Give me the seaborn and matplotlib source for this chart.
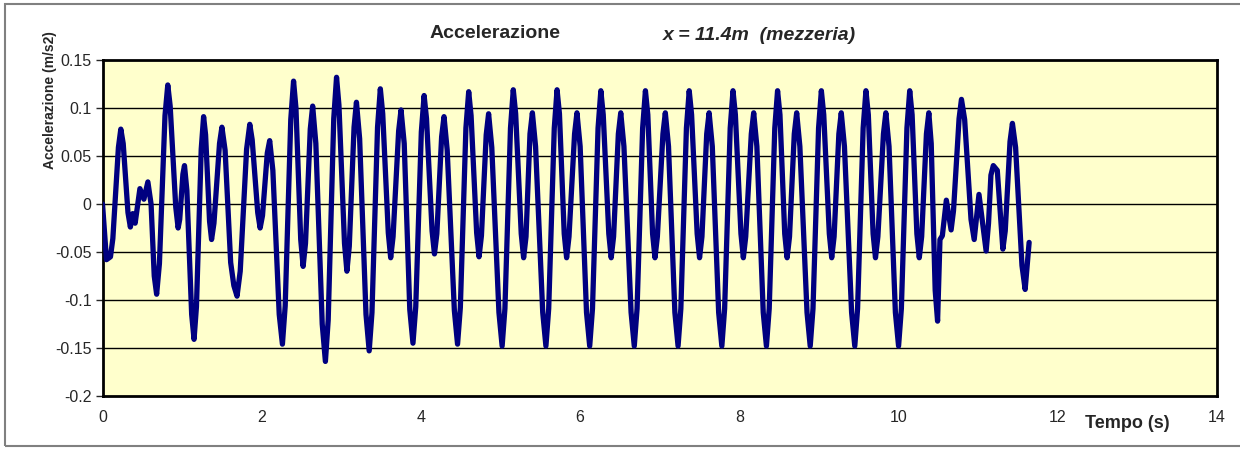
import numpy as np
import matplotlib
matplotlib.use("Agg")
import matplotlib.pyplot as plt
import seaborn as sns
from matplotlib.patches import Rectangle

# points: time (s)
tempo = [
    0.00, 0.05, 0.10, 0.13, 0.20, 0.23, 0.26, 0.32, 0.35, 0.38, 0.41, 0.47, 0.52, 0.57, 0.61, 0.65, 0.68,
    0.715, 0.785, 0.82, 0.85, 0.92, 0.95, 0.97, 1.01, 1.03, 1.06, 1.12, 1.15, 1.18, 1.24, 1.27, 1.295, 1.345, 1.37,
    1.40, 1.47, 1.50, 1.54, 1.61, 1.65, 1.69, 1.73, 1.81, 1.85, 1.88, 1.95, 1.98, 2.01, 2.07, 2.10, 2.14, 2.22, 2.26,
    2.295, 2.365, 2.40, 2.43, 2.49, 2.52, 2.55, 2.61, 2.64, 2.68, 2.76, 2.80,
    2.835, 2.905, 2.94, 2.97, 3.04, 3.07, 3.10, 3.16, 3.19, 3.23, 3.31, 3.35,
    3.385, 3.455, 3.49, 3.52, 3.59, 3.62, 3.65, 3.72, 3.75, 3.79, 3.86, 3.90,
    3.935, 4.005, 4.04, 4.07, 4.14, 4.17, 4.20, 4.26, 4.29, 4.33, 4.42, 4.46,
    4.495, 4.565, 4.60, 4.63, 4.70, 4.73, 4.76, 4.82, 4.85, 4.89, 4.98, 5.02,
    5.055, 5.125, 5.16, 5.19, 5.26, 5.29, 5.32, 5.37, 5.40, 5.44, 5.53, 5.57,
    5.605, 5.675, 5.71, 5.74, 5.80, 5.83, 5.86, 5.93, 5.96, 6.00, 6.08, 6.12,
    6.155, 6.225, 6.26, 6.29, 6.36, 6.39, 6.42, 6.48, 6.51, 6.55, 6.64, 6.68,
    6.715, 6.785, 6.82, 6.85, 6.91, 6.94, 6.97, 7.04, 7.07, 7.11, 7.19, 7.23,
    7.265, 7.335, 7.37, 7.40, 7.47, 7.50, 7.53, 7.59, 7.62, 7.66, 7.74, 7.78,
    7.815, 7.885, 7.92, 7.95, 8.02, 8.05, 8.08, 8.15, 8.18, 8.22, 8.30, 8.34,
    8.375, 8.445, 8.48, 8.51, 8.57, 8.60, 8.63, 8.69, 8.72, 8.76, 8.85, 8.89,
    8.925, 8.995, 9.03, 9.06, 9.13, 9.16, 9.19, 9.25, 9.28, 9.32, 9.41, 9.45,
    9.485, 9.555, 9.59, 9.62, 9.68, 9.71, 9.74, 9.81, 9.84, 9.88, 9.96, 10.00,
    10.035, 10.105, 10.14, 10.17, 10.23, 10.26, 10.29, 10.35, 10.38, 10.41, 10.46, 10.49,
    10.52, 10.55, 10.60, 10.66, 10.69, 10.76, 10.79, 10.83, 10.91, 10.95, 11.01, 11.10,
    11.13, 11.16, 11.19, 11.24, 11.31, 11.34, 11.40, 11.43, 11.47, 11.55, 11.59, 11.64,
]
# acceleration (m/s2)
accel = [
    0.000, -0.058, -0.055, -0.036, 0.059, 0.078, 0.063, -0.009, -0.024, -0.010, -0.020, 0.016, 0.005, 0.023, 0.000, -0.075, -0.094,
    -0.062, 0.092, 0.124, 0.102, -0.003, -0.025, -0.016, 0.031, 0.040, 0.014, -0.115, -0.141, -0.107, 0.057, 0.091, 0.072, -0.018, -0.037,
    -0.020, 0.063, 0.080, 0.056, -0.061, -0.085, -0.096, -0.070, 0.057, 0.083, 0.067, -0.009, -0.025, -0.012, 0.053, 0.066, 0.035, -0.115, -0.146,
    -0.106, 0.088, 0.128, 0.100, -0.037, -0.065, -0.041, 0.078, 0.102, 0.063, -0.125, -0.164,
    -0.121, 0.089, 0.132, 0.103, -0.041, -0.070, -0.044, 0.080, 0.106, 0.068, -0.115, -0.153,
    -0.113, 0.080, 0.120, 0.094, -0.030, -0.056, -0.034, 0.076, 0.098, 0.063, -0.110, -0.145,
    -0.107, 0.075, 0.113, 0.089, -0.028, -0.052, -0.031, 0.070, 0.091, 0.056, -0.111, -0.146,
    -0.108, 0.079, 0.117, 0.092, -0.030, -0.055, -0.033, 0.072, 0.094, 0.059, -0.113, -0.148,
    -0.109, 0.079, 0.119, 0.094, -0.031, -0.056, -0.034, 0.073, 0.095, 0.060, -0.113, -0.148,
    -0.109, 0.079, 0.119, 0.094, -0.031, -0.056, -0.034, 0.073, 0.095, 0.060, -0.113, -0.148,
    -0.109, 0.079, 0.118, 0.093, -0.031, -0.056, -0.034, 0.073, 0.095, 0.060, -0.113, -0.148,
    -0.109, 0.079, 0.118, 0.093, -0.031, -0.056, -0.034, 0.073, 0.095, 0.060, -0.113, -0.148,
    -0.109, 0.079, 0.118, 0.093, -0.031, -0.056, -0.034, 0.073, 0.095, 0.060, -0.113, -0.148,
    -0.109, 0.079, 0.118, 0.093, -0.031, -0.056, -0.034, 0.073, 0.095, 0.060, -0.113, -0.148,
    -0.109, 0.079, 0.118, 0.093, -0.031, -0.056, -0.034, 0.073, 0.095, 0.060, -0.113, -0.148,
    -0.109, 0.079, 0.118, 0.093, -0.031, -0.056, -0.034, 0.073, 0.095, 0.060, -0.113, -0.148,
    -0.109, 0.079, 0.118, 0.093, -0.031, -0.056, -0.034, 0.073, 0.095, 0.060, -0.113, -0.148,
    -0.109, 0.079, 0.118, 0.093, -0.031, -0.056, -0.034, 0.073, 0.095, 0.063, -0.090, -0.122,
    -0.037, -0.033, 0.004, -0.027, -0.007, 0.089, 0.109, 0.088, -0.016, -0.037, 0.010, -0.049,
    -0.020, 0.030, 0.040, 0.035, -0.047, -0.028, 0.065, 0.084, 0.059, -0.064, -0.089, -0.040,
]

xticks = [0, 2, 4, 6, 8, 10, 12, 14]
yticks = [-0.2, -0.15, -0.1, -0.05, 0, 0.05, 0.1, 0.15]
ytick_labels = ["-0.2", "-0.15", "-0.1", "-0.05", "0", "0.05", "0.1", "0.15"]

sns.set_style("white")
plt.rcParams['font.family'] = ['Liberation Sans', 'DejaVu Sans']

fig = plt.figure(figsize=(12.4, 4.5), dpi=100)
ax = fig.add_axes([102.5/1240, 1-396/450, (1217-102.5)/1240, 336/450])
ax.set_facecolor("#FFFFCC")

# outer chart frame
fig.patches.append(Rectangle((5/1240, 4/450), 1.2, 442/450, transform=fig.transFigure,
                             fill=False, edgecolor="#808080", linewidth=1.5))

for y in yticks[1:-1]:
    ax.axhline(y, color="black", linewidth=1.0, zorder=1)

sns.lineplot(x=tempo, y=accel, ax=ax, color="#000080", linewidth=3.8, zorder=3)
for l in ax.lines:
    l.set_solid_joinstyle("round")
    l.set_solid_capstyle("round")

ax.set_xlim(0, 14)
ax.set_ylim(-0.2, 0.15)
ax.set_xticks(xticks)
ax.set_yticks(yticks)
ax.set_yticklabels(ytick_labels)
ax.tick_params(axis="x", length=0, pad=10, labelsize=11.5)
ax.tick_params(axis="y", length=5, width=1, direction="out", pad=3, labelsize=11.5, left=True)
ax.set_xlabel("")
ax.set_ylabel("")
for s in ax.spines.values():
    s.set_color("black")
    s.set_linewidth(2)

fig.text(495/1240, 1-33/450, "Accelerazione", ha="center", va="center",
         fontsize=14, fontweight="bold")
fig.text(759/1240, 1-36/450, "x = 11.4m  (mezzeria)", ha="center", va="center",
         fontsize=14, fontweight="bold", fontstyle="italic")
fig.text(50/1240, 1-100/450, "Accelerazione (m/s2)", ha="center", va="center",
         rotation=90, fontsize=10, fontweight="bold")
fig.text(1127/1240, 1-423/450, "Tempo (s)", ha="center", va="center",
         fontsize=13, fontweight="bold")

fig.savefig("out.png", dpi=100)
